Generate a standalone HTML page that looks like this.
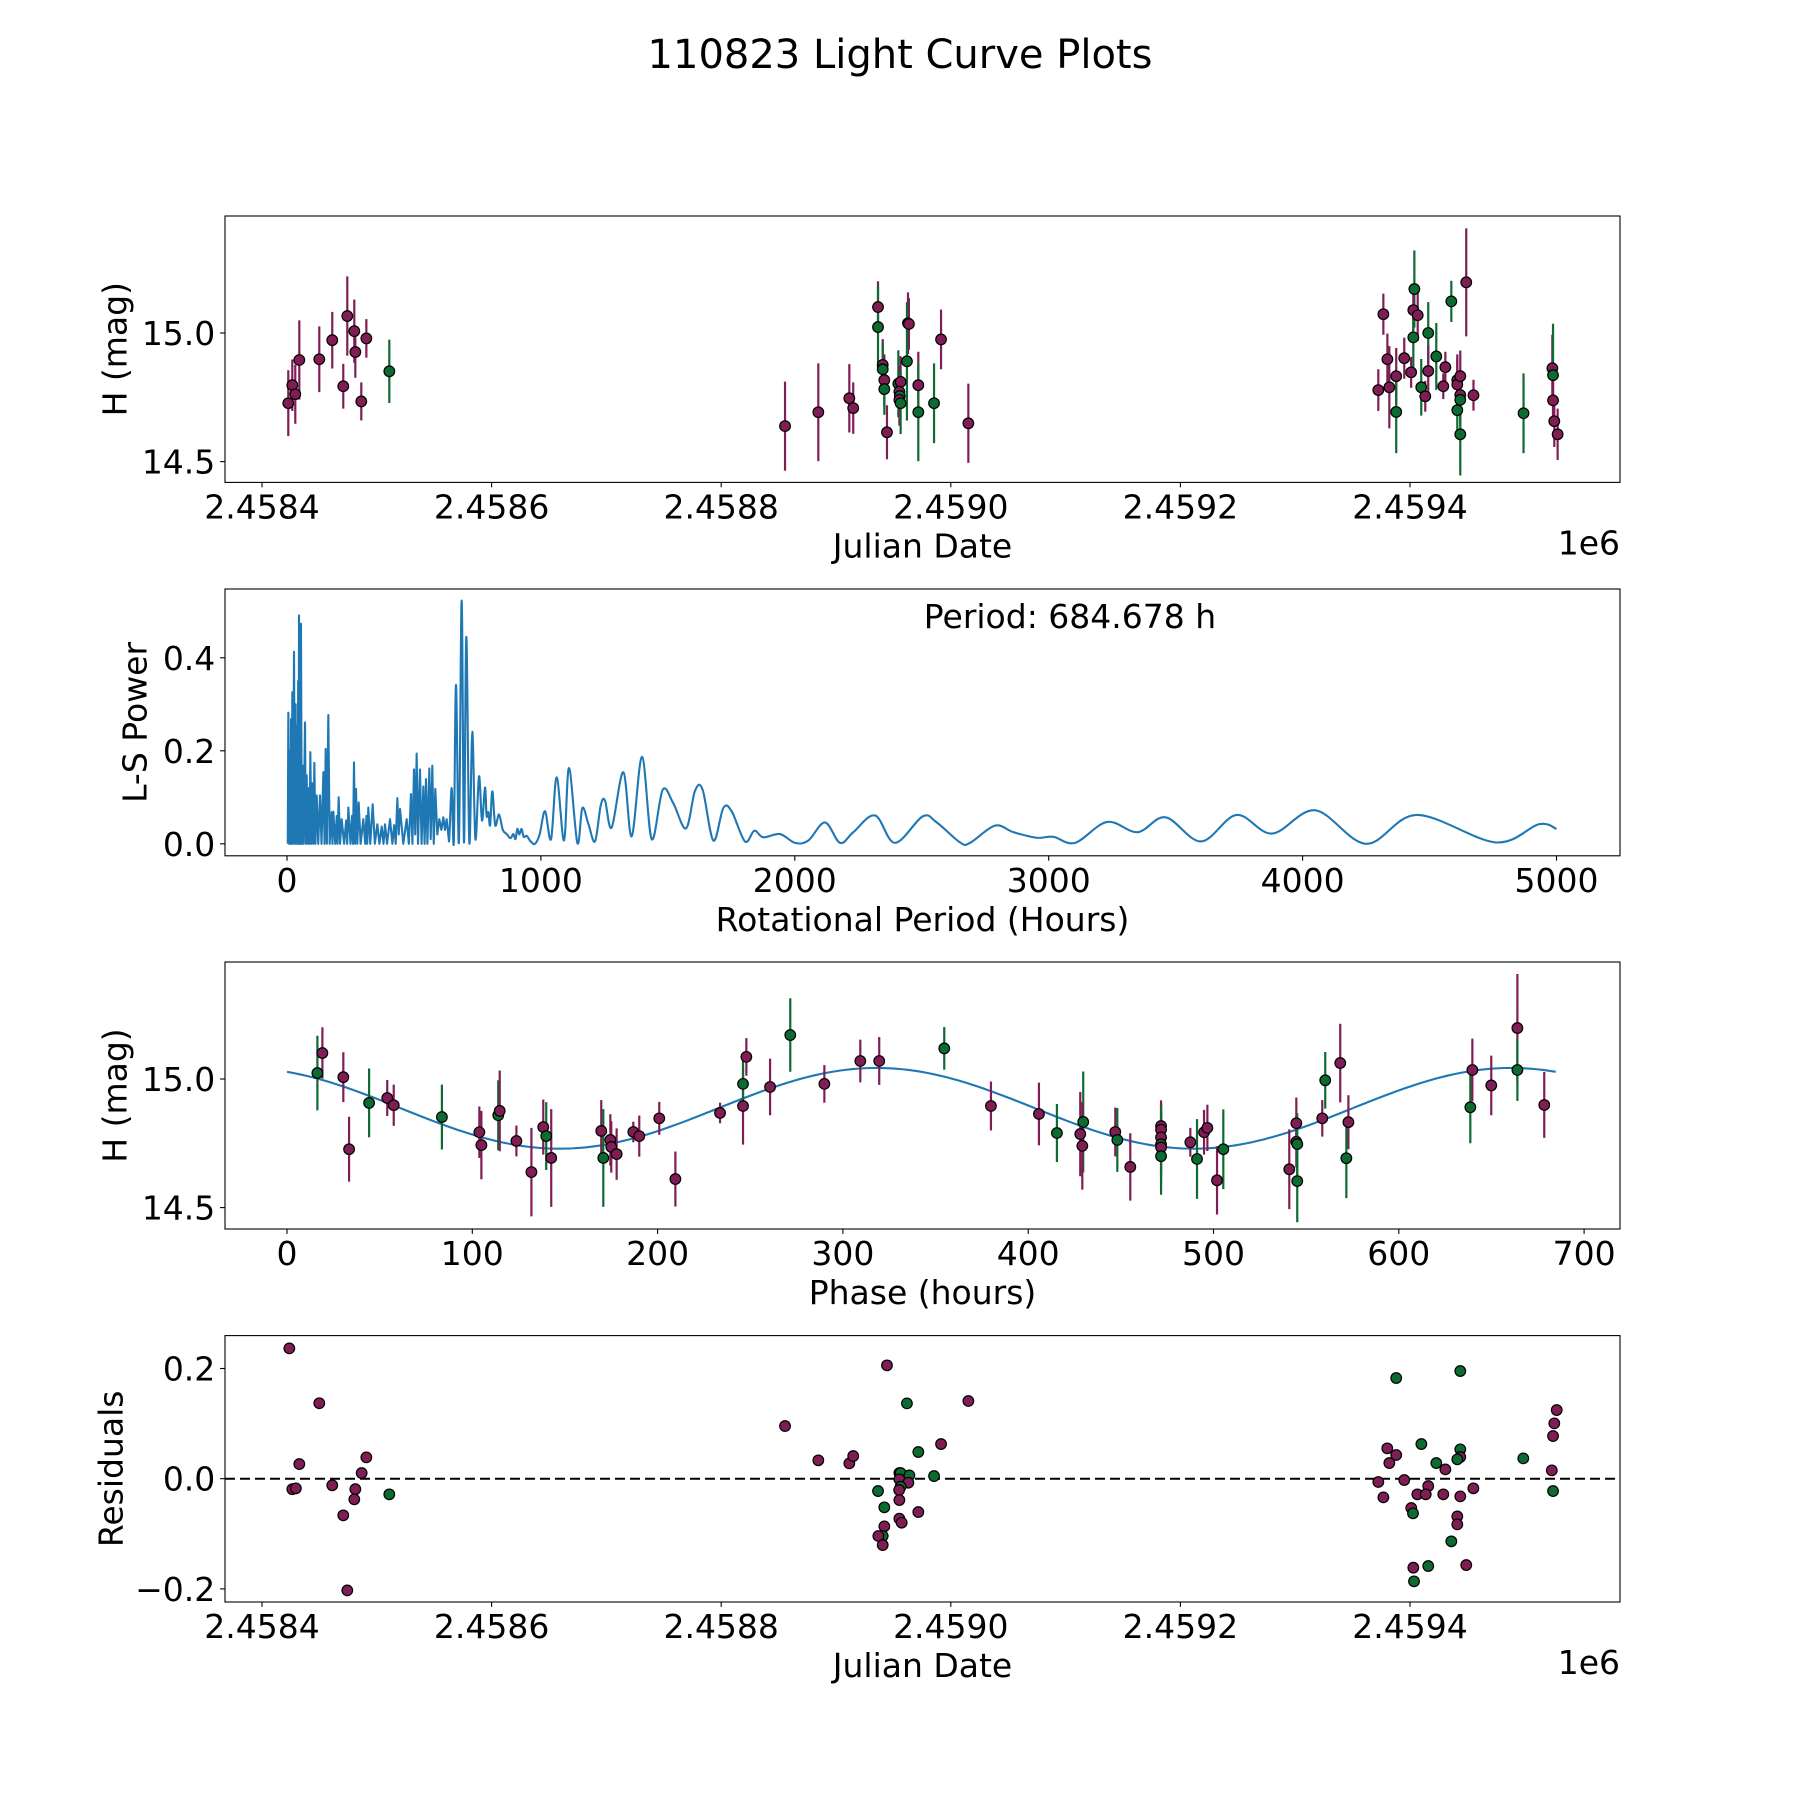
<!DOCTYPE html>
<html>
<head>
<meta charset="utf-8">
<style>
  html,body{margin:0;padding:0;background:#fff;}
  svg{display:block;font-family:"DejaVu Sans","Liberation Sans",sans-serif;}
  text{fill:#000;}
</style>
</head>
<body>
<svg id="fig" width="1800" height="1800" viewBox="0 0 1800 1800" xmlns="http://www.w3.org/2000/svg">
  <rect x="0" y="0" width="1800" height="1800" fill="#fff"/>
  <text x="900" y="68" font-size="40" text-anchor="middle">110823 Light Curve Plots</text>
  <g id="p1"></g>
  <g id="p2"></g>
  <g id="p3"></g>
  <g id="p4"></g>
</svg>
<script>
// ---------- Panel 1: light curve (days offset from JD 2458400) ----------
const lcDay = [22.9,26.4,29,32.5,49.9,61.2,70.8,74.3,80.4,81.3,86.5,90.9,110.9,
 455.6,484.6,511.6,515,536.6,536.6,540.7,540.7,542.1,542.1,544.4,554.3,556.3,555.2,555.6,555.2,556.3,562.7,563.5,561.8,571.7,571.7,585.4,591.5,615.3,
 972.4,976.8,980.3,982,988,988,995,1003.8,1002.9,1006.7,1002.9,1001,1015.9,1015.9,1009.8,1013.3,1022.9,1030.8,1029,1036,1049,1041.2,1041.2,1041.2,1043.8,1043.8,1043.8,1043.8,1055.3,1098.9,1124,1124.6,1124.6,1125.7,1128.6];
const lcMag = [14.727,14.797,14.762,14.895,14.898,14.972,14.793,15.066,15.007,14.926,14.734,14.979,14.851,
 14.638,14.692,14.746,14.708,15.101,15.023,14.876,14.859,14.817,14.782,14.614,14.803,14.81,14.772,14.755,14.74,14.727,15.038,15.035,14.89,14.797,14.692,14.727,14.975,14.649,
 14.778,15.073,14.898,14.789,14.832,14.693,14.902,15.171,15.089,15.069,14.983,14.847,15.0,14.852,14.789,14.754,14.909,14.867,14.793,15.123,15.197,14.70,14.817,14.80,14.832,14.759,14.74,14.606,14.758,14.688,14.863,14.836,14.738,14.657,14.606];
const lcErr = [0.128,0.10,0.115,0.154,0.128,0.11,0.087,0.154,0.123,0.10,0.074,0.075,0.123,
 0.173,0.19,0.133,0.1,0.1,0.16,0.1,0.1,0.1,0.1,0.105,0.13,0.1,0.1,0.1,0.1,0.12,0.12,0.1,0.23,0.13,0.19,0.155,0.116,0.154,
 0.081,0.08,0.1,0.16,0.11,0.16,0.08,0.15,0.1,0.1,0.12,0.06,0.12,0.1,0.11,0.06,0.13,0.06,0.05,0.08,0.21,0.1,0.1,0.1,0.1,0.1,0.1,0.16,0.06,0.155,0.13,0.2,0.1,0.1,0.1];
const lcBand = ['r','r','r','r','r','r','r','r','r','r','r','r','g',
 'r','r','r','r','r','g','r','g','r','g','r','g','r','r','g','r','g','r','r','g','r','g','g','r','r',
 'r','r','r','r','r','g','r','g','r','r','g','r','g','r','g','r','g','r','r','g','r','g','r','r','r','r','g','g','r','g','r','g','r','r','r'];
const lcXTicks = [0,200,400,600,800,1000];
const lcXTickLabels = ['2.4584','2.4586','2.4588','2.4590','2.4592','2.4594'];
const magTicks = [14.5,15.0];
const magTickLabels = ['14.5','15.0'];

// ---------- Panel 2: Lomb-Scargle periodogram ----------
const pgPeriod = [3,5.3,8,12,14,15.8,18,21,24,27.6,31,34,36,38,42,44,46,47.3,50,52,53.5,55.1,58,61.7,65,70.9,74,77.5,82,86,89,91.9,96,100,104,107.7,112,117,123,130,136,143.2,148,152.3,157,162.8,168,175.9,179,182.5,190,196,199,203.5,209,215.3,225,233,237,241.6,250,256,260,263.9,268,271.8,277,282.3,290,300.6,308,313,316,320.3,328,337.4,346,355.8,364,372.9,380,386,394,405.7,415,422,428,434.6,440,445.1,458,471.3,480,488.4,494,500.2,505,510.7,516,523.8,530,537,542,547.5,553,560.6,566,572.4,578,584.2,592,600,608,615.7,622,628.9,638,648.6,657,665.6,677,687.9,697,706.3,718,729.9,742,756.2,768,779.8,786,793,800,808.7,820,835,850,865.2,880,891.4,900,907.2,915,924.2,932,943.9,960,976.7,995,1016.1,1040,1062.1,1091,1110.7,1143.5,1163.2,1186.8,1213,1235.4,1252.5,1278.7,1324.7,1357.5,1398.2,1436.3,1479.6,1521.6,1571.5,1606.9,1637.1,1679.1,1718.5,1751.3,1803.9,1840.6,1876.1,1941.7,2000.8,2053.3,2118.9,2178,2230.5,2315.9,2394.6,2503.6,2558.8,2650.7,2690,2788.5,2860.7,2952.6,3018.2,3103.6,3230,3350,3460,3600,3740,3880,4050,4250,4450,4760,4930,5000];
const pgPower = [0,0.282,0,0.2,0,0.268,0,0.326,0,0.413,0,0.3,0,0.254,0,0.35,0,0.491,0,0.4,0,0.473,0,0.168,0,0.261,0,0.147,0,0.12,0,0.197,0,0.13,0,0.174,0,0.104,0,0.104,0,0.154,0,0.204,0,0.277,0,0.068,0,0.069,0,0.06,0,0.1,0,0.053,0,0.05,0,0.078,0,0.06,0,0.175,0,0.118,0,0.089,0,0.053,0,0.06,0,0.078,0,0.085,0,0.042,0,0.037,0,0.042,0,0.053,0,0.04,0,0.098,0.02,0.075,0,0.053,0,0.107,0,0.16,0.02,0.194,0,0.16,0,0.123,0,0.139,0,0.162,0.01,0.168,0,0.118,0.02,0.053,0.03,0.057,0.03,0.053,0.005,0.12,0.003,0.342,0.003,0.523,0.003,0.445,0.003,0.241,0.01,0.145,0.05,0.121,0.06,0.068,0.04,0.113,0.04,0.063,0.03,0.021,0.012,0.021,0.01,0.032,0.02,0.032,0.015,0.017,0.005,0.0,0.02,0.07,0.01,0.143,0.007,0.163,0.002,0.077,0.043,0.005,0.082,0.093,0.035,0.154,0.016,0.187,0.010,0.116,0.087,0.033,0.114,0.116,0.007,0.077,0.07,0.005,0.028,0.014,0.021,0.002,0.007,0.046,0.002,0.025,0.061,0.002,0.059,0.046,0.003,0.002,0.039,0.025,0.013,0.015,0.002,0.047,0.025,0.057,0.005,0.062,0.022,0.072,0.0,0.062,0.003,0.042,0.032];
const pgXTicks = [0,1000,2000,3000,4000,5000];
const pgXTickLabels = ['0','1000','2000','3000','4000','5000'];
const pgYTicks = [0.0,0.2,0.4];
const pgYTickLabels = ['0.0','0.2','0.4'];
const bestPeriod = 684.678;

// ---------- Panel 3: phase folded ----------
const phPhase = [16.4,19.1,30.4,33.5,44.3,54.1,57.6,83.6,103.8,104.9,114,114.8,123.8,131.9,138.3,139.9,142.6,169.6,170.7,174.5,175,177.9,186.9,190.1,200.9,209.6,
 233.7,246.1,246.1,247.9,260.7,271.6,290,309.4,319.6,354.7,379.9,405.8,415.5,429.7,428.1,429.2,447,448.1,455.1,
 471.7,471.7,471.7,471.7,471.7,471.7,487.5,491.1,494.9,496.7,501.9,505.3,540.9,544.7,544.7,545.2,545.2,558.7,560.3,568.4,572.8,571.7,638.6,639.7,649.9,664,664,678.5];
const phMag = [15.023,15.101,15.007,14.727,14.907,14.926,14.898,14.852,14.793,14.743,14.859,14.876,14.759,14.638,14.813,14.778,14.693,14.798,14.693,14.763,14.736,14.708,14.794,14.778,14.847,14.611,
 14.868,14.895,14.981,15.086,14.969,15.171,14.981,15.07,15.07,15.119,14.895,14.864,14.79,14.833,14.786,14.74,14.794,14.763,14.658,
 14.817,14.803,14.773,14.746,14.734,14.7,14.754,14.689,14.793,14.81,14.606,14.727,14.649,14.828,14.756,14.747,14.603,14.847,14.995,15.062,14.832,14.692,14.89,15.035,14.975,15.198,15.035,14.899];
const phErr = [0.145,0.1,0.097,0.126,0.134,0.07,0.08,0.126,0.1,0.133,0.136,0.157,0.06,0.172,0.107,0.132,0.19,0.12,0.19,0.1,0.1,0.1,0.04,0.08,0.064,0.107,
 0.04,0.15,0.1,0.073,0.11,0.143,0.073,0.083,0.093,0.083,0.095,0.122,0.113,0.196,0.164,0.17,0.095,0.124,0.131,
 0.1,0.1,0.1,0.15,0.1,0.15,0.056,0.155,0.087,0.09,0.133,0.155,0.155,0.1,0.1,0.12,0.16,0.071,0.11,0.153,0.105,0.155,0.14,0.122,0.116,0.21,0.12,0.128];
const phBand = ['g','r','r','r','g','r','r','g','r','r','g','r','r','r','r','g','r','r','g','r','r','r','r','r','r','r',
 'r','r','g','r','r','g','r','r','r','g','r','r','g','g','r','r','r','g','r',
 'r','r','r','g','r','g','r','g','r','r','r','g','r','r','r','g','g','r','g','r','r','g','g','r','r','r','g','r'];
const phXTicks = [0,100,200,300,400,500,600,700];
const phXTickLabels = ['0','100','200','300','400','500','600','700'];
// fitted sinusoid parameters
const fitMean = 14.886, fitAmp = 0.157, fitPeakPhase = 318.2;

// ---------- Panel 4: residuals ----------
const resDay = [23.8,49.9,32.5,26.4,29.5,61.2,70.8,74.3,81.3,80.4,86.8,90.9,110.9,
 455.6,484.6,511.6,515,544.4,561.8,615.3,591.5,571.7,585.4,555.2,556.3,563.9,555.2,563,556.3,555,536.6,555.2,542.1,571.7,555.2,557.2,542.1,540.7,536.9,540.7,
 988,1043.8,1127.8,1125.7,1124.6,1009.9,980.2,988,982,1043.8,1043.8,1041.2,1022.9,1030.8,1098.7,1123.5,1124.6,972.4,995,976.8,1015.9,1006.4,1013.7,1029,1043.8,1055.2,1001.1,1002.6,1041.2,1041.2,1036,1002.9,1015.9,1049,1003.5];
const resVal = [0.2365,0.137,0.0266,-0.019,-0.0175,-0.012,-0.0665,-0.2027,-0.019,-0.0375,0.0103,0.0387,-0.0284,
 0.0956,0.0333,0.0278,0.0411,0.2057,0.1367,0.141,0.0629,0.0484,0.0048,0.0103,0.0103,0.006,-0.0012,-0.0073,-0.0145,-0.0206,-0.0224,-0.0387,-0.052,-0.0605,-0.0726,-0.0799,-0.0865,-0.104,-0.104,-0.1204,
 0.1827,0.1954,0.1246,0.1004,0.0774,0.0629,0.0551,0.043,0.0284,0.0532,0.0393,0.0351,0.0284,0.0169,0.0369,0.0151,-0.0224,-0.006,-0.0024,-0.0339,-0.0133,-0.0284,-0.0284,-0.0284,-0.0321,-0.0175,-0.0532,-0.0629,-0.0684,-0.0829,-0.1137,-0.1615,-0.1585,-0.1567,-0.1863];
const resBand = ['r','r','r','r','r','r','r','r','r','r','r','r','g',
 'r','r','r','r','r','g','r','r','g','g','g','g','g','r','r','g','r','g','r','g','r','r','r','r','g','r','r',
 'g','g','r','r','r','g','r','r','r','g','r','g','g','r','g','r','g','r','r','r','r','r','r','r','r','r','r','g','r','r','g','r','g','r','g'];
const resYTicks = [-0.2,0.0,0.2];
const resYTickLabels = ['\u22120.2','0.0','0.2'];

// ---------- drawing ----------
const NS = 'http://www.w3.org/2000/svg';
const COLORS = {r:'#7f1d54', g:'#0c6b30'};
function mk(tag, attrs, parent){
  const e = document.createElementNS(NS, tag);
  for (const k in attrs) e.setAttribute(k, attrs[k]);
  parent.appendChild(e);
  return e;
}
const AX = {left:225, right:1620};
const P = {
  p1:{top:216, bottom:482.4},
  p2:{top:589, bottom:855.8},
  p3:{top:962, bottom:1229},
  p4:{top:1335.6, bottom:1602}
};
// axis functions
const xJD = d => 262 + 1.148*d;
const yMag1 = m => 333 - (m-15)*257.2;
const xPer = p => 287 + 0.2539*p;
const yPow = v => 843.8 - 465*v;
const xPh = h => 287 + 1.853*h;
const yMag3 = m => 1079 - (m-15)*257.2;
const yRes = r => 1478.7 - 551*r;

function frame(g, box, name){
  const r = mk('rect', {x:AX.left, y:box.top, width:AX.right-AX.left, height:box.bottom-box.top, fill:'none', stroke:'#000', 'stroke-width':1.1}, g);
  
  
}
function xTicks(g, box, vals, labels, fx){
  vals.forEach((v,i)=>{
    const x = fx(v);
    const t = mk('line', {x1:x, x2:x, y1:box.bottom, y2:box.bottom+4.9, stroke:'#000','stroke-width':1.1}, g);
    
    
    const tx = mk('text', {x:x, y:box.bottom+36, 'font-size':33, 'text-anchor':'middle'}, g);
    tx.textContent = labels[i];
    
    
  });
}
function yTicks(g, vals, labels, fy){
  vals.forEach((v,i)=>{
    const y = fy(v);
    const t = mk('line', {x1:AX.left-4.9, x2:AX.left, y1:y, y2:y, stroke:'#000','stroke-width':1.1}, g);
    
    
    const tx = mk('text', {x:AX.left-9.7, y:y+12, 'font-size':33, 'text-anchor':'end'}, g);
    tx.textContent = labels[i];
    
    
  });
}
function xLabel(g, box, txt){
  const t = mk('text', {x:(AX.left+AX.right)/2, y:box.bottom+75, 'font-size':33, 'text-anchor':'middle'}, g);
  t.textContent = txt;
  
  
}
function yLabel(g, box, txt, x){
  const cy = (box.top+box.bottom)/2;
  const t = mk('text', {x:x, y:cy, 'font-size':33, 'text-anchor':'middle', 'dominant-baseline':'central', transform:'rotate(-90 '+x+' '+cy+')'}, g);
  t.textContent = txt;
  
  
}
function offsetText(g, box){
  const t = mk('text', {x:AX.right, y:box.bottom+72, 'font-size':33, 'text-anchor':'end'}, g);
  t.textContent = '1e6';
  
  
}
function errorPoints(g, xs, ys, es, bands, fx, fy){
  const n = xs.length;
  for (let i=0;i<n;i++){
    const x = fx(xs[i]);
    const b = mk('line', {x1:x, x2:x, y1:fy(ys[i]-es[i]), y2:fy(ys[i]+es[i]), stroke:COLORS[bands[i]], 'stroke-width':2.2}, g);
    
    
  }
  for (let i=0;i<n;i++){
    const c = mk('circle', {cx:fx(xs[i]), cy:fy(ys[i]), r:5.3, fill:COLORS[bands[i]], stroke:'#000', 'stroke-width':1.2}, g);
    
    
  }
}

// Panel 1
(function(){
  const g = document.getElementById('p1'), box = P.p1;
  errorPoints(g, lcDay, lcMag, lcErr, lcBand, xJD, yMag1);
  frame(g, box, 'light-curve-axes');
  xTicks(g, box, lcXTicks, lcXTickLabels, xJD);
  yTicks(g, magTicks, magTickLabels, yMag1);
  xLabel(g, box, 'Julian Date');
  yLabel(g, box, 'H (mag)', 115);
  offsetText(g, box);
})();

// Panel 2
(function(){
  const g = document.getElementById('p2'), box = P.p2;
  const pts = pgPeriod.map((p,i)=>[xPer(p), yPow(pgPower[i])]);
  let d = 'M'+pts[0][0].toFixed(2)+','+pts[0][1].toFixed(2);
  for (let i=1;i<pts.length;i++){
    if (pgPeriod[i] < 640){
      d += ' L'+pts[i][0].toFixed(2)+','+pts[i][1].toFixed(2);
    } else {
      const p0 = pts[i-2] || pts[i-1], p1 = pts[i-1], p2 = pts[i], p3 = pts[i+1] || pts[i];
      const c1x = p1[0]+(p2[0]-p0[0])/6, c1y = p1[1]+(p2[1]-p0[1])/6;
      const c2x = p2[0]-(p3[0]-p1[0])/6, c2y = p2[1]-(p3[1]-p1[1])/6;
      d += ' C'+c1x.toFixed(2)+','+c1y.toFixed(2)+' '+c2x.toFixed(2)+','+c2y.toFixed(2)+' '+p2[0].toFixed(2)+','+p2[1].toFixed(2);
    }
  }
  const path = mk('path', {d:d, fill:'none', stroke:'#1f77b4', 'stroke-width':2.1, 'stroke-linejoin':'round'}, g);
  
  
  frame(g, box, 'periodogram-axes');
  xTicks(g, box, pgXTicks, pgXTickLabels, xPer);
  yTicks(g, pgYTicks, pgYTickLabels, yPow);
  xLabel(g, box, 'Rotational Period (Hours)');
  yLabel(g, box, 'L-S Power', 135);
  const a = mk('text', {x:1070, y:628, 'font-size':33, 'text-anchor':'middle'}, g);
  a.textContent = 'Period: ' + bestPeriod.toFixed(3) + ' h';
  
  
})();

// Panel 3
(function(){
  const g = document.getElementById('p3'), box = P.p3;
  let d = '';
  for (let k=0;k<=200;k++){
    const h = bestPeriod*k/200;
    const m = fitMean + fitAmp*Math.cos(2*Math.PI*2*(h-fitPeakPhase)/bestPeriod);
    d += (k?' L':'M') + xPh(h).toFixed(2)+','+yMag3(m).toFixed(2);
  }
  const path = mk('path', {d:d, fill:'none', stroke:'#1f77b4', 'stroke-width':2.1}, g);
  
  
  errorPoints(g, phPhase, phMag, phErr, phBand, xPh, yMag3);
  frame(g, box, 'phase-axes');
  xTicks(g, box, phXTicks, phXTickLabels, xPh);
  yTicks(g, magTicks, magTickLabels, yMag3);
  xLabel(g, box, 'Phase (hours)');
  yLabel(g, box, 'H (mag)', 115);
})();

// Panel 4
(function(){
  const g = document.getElementById('p4'), box = P.p4;
  const z = mk('line', {x1:AX.left, x2:AX.right, y1:yRes(0), y2:yRes(0), stroke:'#000', 'stroke-width':2, 'stroke-dasharray':'10,5'}, g);
  
  
  for (let i=0;i<resDay.length;i++){
    const c = mk('circle', {cx:xJD(resDay[i]), cy:yRes(resVal[i]), r:5.3, fill:COLORS[resBand[i]], stroke:'#000', 'stroke-width':1.2}, g);
    
    
  }
  frame(g, box, 'residuals-axes');
  xTicks(g, box, lcXTicks, lcXTickLabels, xJD);
  yTicks(g, resYTicks, resYTickLabels, yRes);
  xLabel(g, box, 'Julian Date');
  yLabel(g, box, 'Residuals', 111);
  offsetText(g, box);
})();
</script>
</body>
</html>
